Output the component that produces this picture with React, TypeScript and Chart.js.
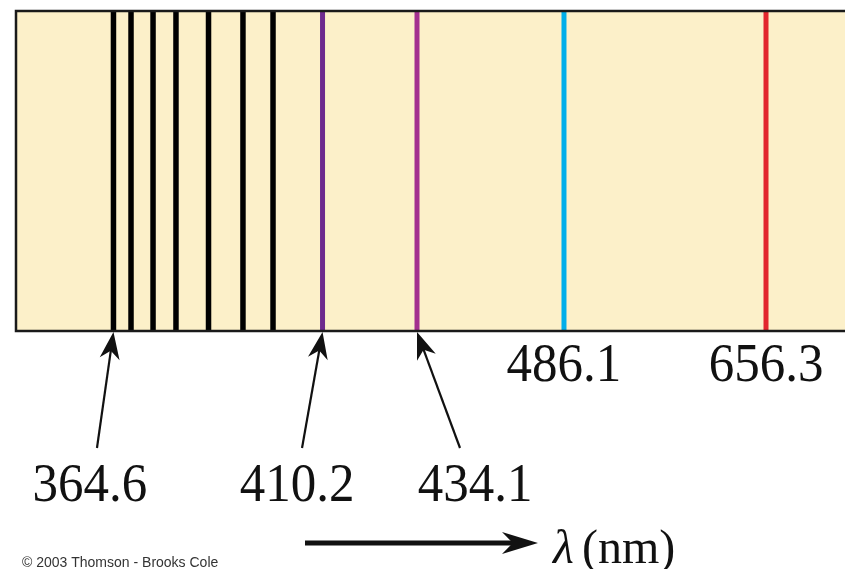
import React, { useEffect, useRef } from "react";
import { Chart, registerables } from "chart.js";

Chart.register(...registerables);

// Spectral lines (schematic positions along the strip, 0–100)
const lineLabels = ["364.6", "", "", "", "", "", "", "410.2", "434.1", "486.1", "656.3"];
const linePositions = [11.65, 13.77, 16.43, 19.2, 23.13, 27.29, 30.92, 36.9, 48.31, 66.06, 90.46];
const lineColors = [
  "#000000", "#000000", "#000000", "#000000", "#000000", "#000000", "#000000",
  "#6E2A8E", "#A3308F", "#00AEEA", "#E2262D",
];
const lineWidths = [5.5, 5.5, 5.5, 5.5, 5.5, 5.5, 5.5, 5, 5, 5, 5];
const axisSymbol = "λ";
const axisUnit = "(nm)";
const creditText = "© 2003 Thomson - Brooks Cole";

// Layout of the labels that hang under the strip with arrows (pixel offsets from the line)
const arrowLayout: Record<number, { labelDx: number; tailDx: number }> = {
  0: { labelDx: -23.5, tailDx: -16.5 },
  7: { labelDx: -25.5, tailDx: -20.5 },
  8: { labelDx: 58, tailDx: 43 },
};

function drawArrow(
  ctx: CanvasRenderingContext2D,
  x0: number, y0: number, x1: number, y1: number,
  width: number, headLen: number, headHalf: number
) {
  const ang = Math.atan2(y1 - y0, x1 - x0);
  const ux = Math.cos(ang), uy = Math.sin(ang);
  const px = -uy, py = ux;
  const bx = x1 - ux * headLen, by = y1 - uy * headLen;
  ctx.lineWidth = width;
  ctx.lineCap = "butt";
  ctx.beginPath();
  ctx.moveTo(x0, y0);
  ctx.lineTo(bx + ux * headLen * 0.4, by + uy * headLen * 0.4);
  ctx.stroke();
  ctx.beginPath();
  ctx.moveTo(x1, y1);
  ctx.lineTo(bx + px * headHalf, by + py * headHalf);
  ctx.lineTo(bx + ux * headLen * 0.3, by + uy * headLen * 0.3);
  ctx.lineTo(bx - px * headHalf, by - py * headHalf);
  ctx.closePath();
  ctx.fill();
}

function drawNumber(ctx: CanvasRenderingContext2D, text: string, cx: number, baseline: number) {
  ctx.save();
  ctx.translate(cx, baseline);
  ctx.scale(1.02, 1.1);
  ctx.font = "50px 'Liberation Serif', 'DejaVu Serif', serif";
  ctx.textAlign = "center";
  ctx.textBaseline = "alphabetic";
  ctx.fillText(text, 0, 0);
  ctx.restore();
}

const spectrumPlugin = {
  id: "spectrum",
  beforeDatasetsDraw(chart: any) {
    const { ctx, chartArea: a } = chart;
    ctx.save();
    ctx.fillStyle = "#FCF0C9";
    ctx.fillRect(a.left, a.top, a.right - a.left, a.bottom - a.top);
    ctx.restore();
  },
  afterDatasetsDraw(chart: any) {
    const { ctx, chartArea: a } = chart;
    ctx.save();
    ctx.strokeStyle = "#1a1a1a";
    ctx.lineWidth = 2.5;
    ctx.beginPath();
    ctx.moveTo(a.right, a.top - 1);
    ctx.lineTo(a.left - 1, a.top - 1);
    ctx.lineTo(a.left - 1, a.bottom + 1);
    ctx.lineTo(a.right, a.bottom + 1);
    ctx.stroke();
    ctx.restore();
  },
  afterDraw(chart: any) {
    const { ctx, chartArea: a } = chart;
    const xs = chart.scales.x;
    ctx.save();
    ctx.fillStyle = "#111";
    ctx.strokeStyle = "#111";
    lineLabels.forEach((lbl, i) => {
      if (!lbl) return;
      const x = xs.getPixelForValue(linePositions[i]);
      const lay = arrowLayout[i];
      if (lay) {
        drawArrow(ctx, x + lay.tailDx, a.bottom + 118, x, a.bottom + 2, 2.2, 27, 10);
        drawNumber(ctx, lbl, x + lay.labelDx, a.bottom + 171);
      } else {
        drawNumber(ctx, lbl, x, a.bottom + 51);
      }
    });
    // wavelength direction arrow
    drawArrow(ctx, 305, 543, 538, 543, 5, 36, 11);
    ctx.font = "italic 48px 'Liberation Serif', 'DejaVu Serif', serif";
    ctx.textAlign = "left";
    ctx.textBaseline = "alphabetic";
    ctx.fillText(axisSymbol, 553, 563);
    ctx.font = "48px 'Liberation Serif', 'DejaVu Serif', serif";
    ctx.fillText(axisUnit, 582, 563);
    // credit
    ctx.font = "14px 'Liberation Sans', Arial, sans-serif";
    ctx.fillStyle = "#333";
    ctx.fillText(creditText, 22, 567);
    ctx.restore();
  },
};

export default function App() {
  const ref = useRef<HTMLCanvasElement | null>(null);
  useEffect(() => {
    if (!ref.current) return;
    const chart = new Chart(ref.current, {
      type: "scatter",
      data: {
        datasets: linePositions.map((p, i) => ({
          label: lineLabels[i] || `line ${i + 1}`,
          data: [
            { x: p, y: 0 },
            { x: p, y: 1 },
          ],
          showLine: true,
          borderColor: lineColors[i],
          backgroundColor: lineColors[i],
          borderWidth: lineWidths[i],
          borderCapStyle: "butt" as const,
          pointRadius: 0,
          pointHoverRadius: 0,
        })),
      },
      options: {
        animation: false,
        responsive: false,
        devicePixelRatio: 1,
        layout: { padding: { left: 17, top: 12, right: 0, bottom: 239 } },
        scales: {
          x: { type: "linear", min: 0, max: 100, display: false },
          y: { type: "linear", min: 0, max: 1, display: false },
        },
        plugins: { legend: { display: false }, tooltip: { enabled: false } },
        events: [],
      },
      plugins: [spectrumPlugin],
    });
    return () => chart.destroy();
  }, []);
  return (
    <div style={{ position: "absolute", left: 0, top: 0, width: 845, height: 569, background: "#fff" }}>
      <canvas ref={ref} width={845} height={569} style={{ display: "block" }} />
    </div>
  );
}
